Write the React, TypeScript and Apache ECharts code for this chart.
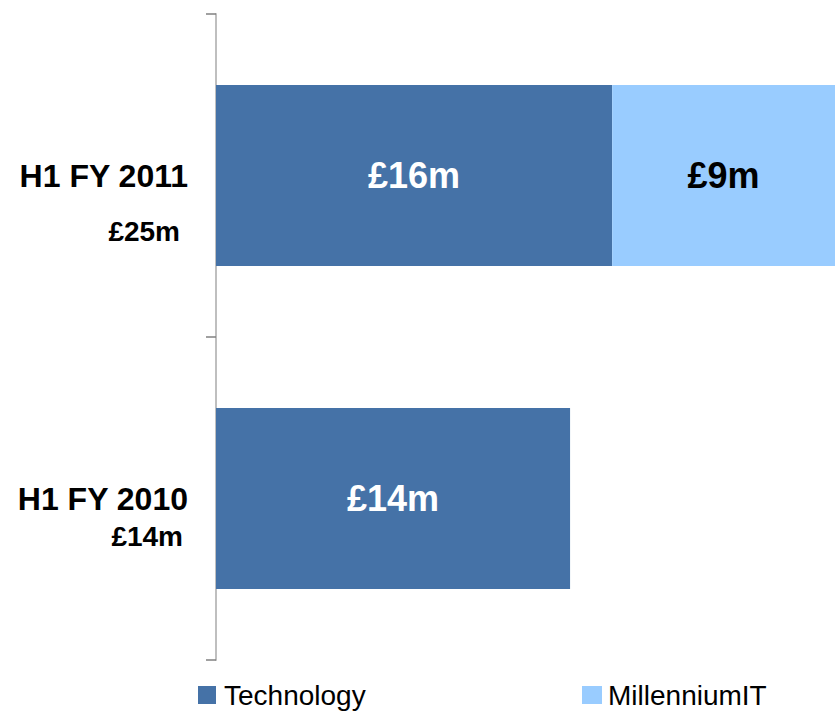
import React, { useEffect, useRef } from "react";
import * as echarts from "echarts";

const categories = ["H1 FY 2010", "H1 FY 2011"];
const totalLabels = ["£14m", "£25m"];
const seriesNames = ["Technology", "MillenniumIT"];
const technology = [14.3, 16];
const millenniumIT: (number | string)[] = ["-", 9];

const FONT = 'Arial, "Liberation Sans", sans-serif';
const DARK = "#4572A7";
const LIGHT = "#99CCFF";

export default function App() {
  const ref = useRef<HTMLDivElement>(null);
  useEffect(() => {
    if (!ref.current) return;
    const chart = echarts.init(ref.current, undefined, { renderer: "svg" });
    const barLabel = (color: string) => ({
      show: true,
      position: "inside" as const,
      color,
      fontSize: 36,
      fontWeight: "bold" as const,
      fontFamily: FONT,
      formatter: (p: any) => `£${Math.round(Number(p.value))}m`,
    });
    chart.setOption({
      animation: false,
      backgroundColor: "#ffffff",
      grid: { left: 216, right: 0, top: 14, bottom: 52, containLabel: false },
      xAxis: {
        type: "value",
        min: 0,
        max: 25,
        show: false,
      },
      yAxis: {
        type: "category",
        data: categories,
        axisLine: { show: true, lineStyle: { color: "#BFBFBF", width: 2 } },
        axisTick: { show: true, length: 10, lineStyle: { color: "#808080", width: 1.5 } },
        axisLabel: {
          margin: 28,
          fontSize: 32,
          fontWeight: "bold",
          color: "#000",
          fontFamily: FONT,
        },
        splitLine: { show: false },
      },
      legend: [
        {
          data: [seriesNames[0]],
          left: 198,
          top: 681,
          padding: 0,
          itemWidth: 18,
          itemHeight: 18,
          icon: "rect",
          textStyle: { fontSize: 28, color: "#000", fontFamily: FONT, padding: [0, 0, 0, 3] },
        },
        {
          data: [seriesNames[1]],
          left: 582,
          top: 681,
          padding: 0,
          itemWidth: 20,
          itemHeight: 18,
          icon: "rect",
          textStyle: { fontSize: 28, color: "#000", fontFamily: FONT, padding: [0, 0, 0, 1] },
        },
      ],
      series: [
        {
          name: seriesNames[0],
          type: "bar",
          stack: "total",
          data: technology,
          barCategoryGap: "44%",
          itemStyle: { color: DARK },
          label: barLabel("#ffffff"),
        },
        {
          name: seriesNames[1],
          type: "bar",
          stack: "total",
          data: millenniumIT,
          barCategoryGap: "44%",
          itemStyle: { color: LIGHT },
          label: barLabel("#000000"),
        },
      ],
    });
    const totalOffsets = [38, 56];
    const totalRight = [183, 180];
    const graphics = categories.map((c, i) => {
      const y = chart.convertToPixel({ yAxisIndex: 0 }, c) as number;
      return {
        type: "text",
        x: totalRight[i],
        y: y + totalOffsets[i],
        style: {
          text: totalLabels[i],
          fill: "#000",
          font: `bold 28px ${FONT}`,
          align: "right",
          verticalAlign: "middle",
        },
      };
    });
    chart.setOption({ graphic: graphics });
    return () => chart.dispose();
  }, []);
  return (
    <div
      ref={ref}
      style={{ position: "absolute", left: 0, top: 0, width: 835, height: 712 }}
    />
  );
}
